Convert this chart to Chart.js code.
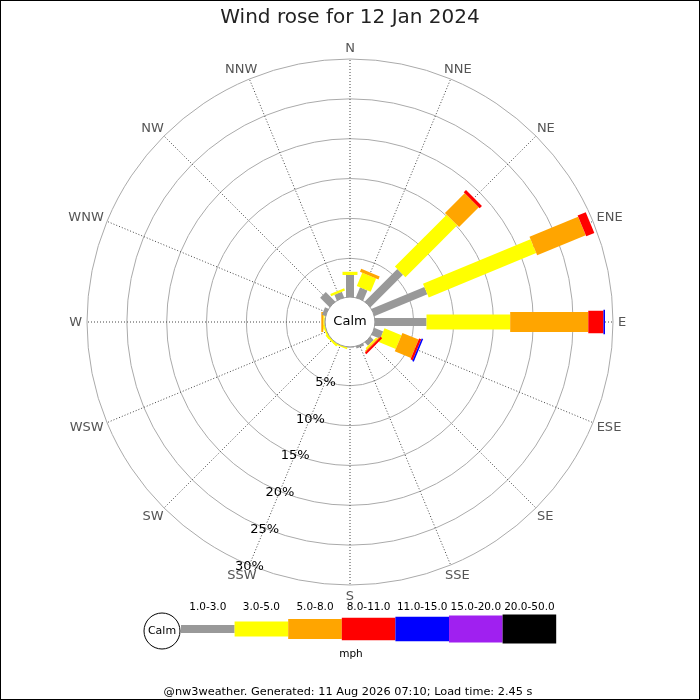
<!DOCTYPE html>
<html>
<head>
<meta charset="utf-8">
<script src="https://cdn.jsdelivr.net/npm/chart.js@4/dist/chart.umd.min.js"></script>
<style>
  body { margin: 0; background: #fff; }
  canvas { display: block; }
</style>
</head>
<body>
<canvas id="rose" width="700" height="700"></canvas>
<script>
// compass points, clockwise from north
const directions = ['N', 'NNE', 'NE', 'ENE', 'E', 'ESE', 'SE', 'SSE',
                    'S', 'SSW', 'SW', 'WSW', 'W', 'WNW', 'NW', 'NNW'];
const speedBands = ['1.0-3.0', '3.0-5.0', '5.0-8.0', '8.0-11.0', '11.0-15.0', '15.0-20.0', '20.0-50.0'];

// % of the day in each band, per direction
const speed1to3   = [2.9, 1.5, 5.9, 7.3, 6.6, 1.3, 0.7, 0.4, 0.2, 0.1, 0.1, 0.1, 0.2, 0.6, 1.8, 0.9];
const speed3to5   = [0.4, 1.8, 9.2, 14.6, 10.5, 2.3, 0.2, 0, 0, 0.2, 0.3, 0.25, 0.15, 0, 0, 0.3];
const speed5to8   = [0, 0.4, 3.5, 6.6, 9.8, 2.2, 0.15, 0, 0, 0, 0, 0, 0.25, 0, 0, 0];
const speed8to11  = [0, 0, 0.4, 1.1, 1.9, 0.3, 0.25, 0, 0, 0, 0, 0, 0, 0, 0, 0];
const speed11to15 = [0, 0, 0, 0, 0.2, 0.2, 0, 0, 0, 0, 0, 0, 0, 0, 0, 0];
const speed15to20 = [0, 0, 0, 0, 0, 0, 0, 0, 0, 0, 0, 0, 0, 0, 0, 0];
const speed20to50 = [0, 0, 0, 0, 0, 0, 0, 0, 0, 0, 0, 0, 0, 0, 0, 0];
const bandData = [speed1to3, speed3to5, speed5to8, speed8to11, speed11to15, speed15to20, speed20to50];

const ringTicks = [5, 10, 15, 20, 25, 30];

const bandColours = ['#999999', '#ffff00', '#ffa500', '#ff0000', '#0000ff', '#a020f0', '#000000'];
const bandWidths = [8, 15, 20, 22.5, 24.5, 27, 29];
const tickAxis = 9; // % labels run along SSW
const font = 'DejaVu Sans';

const rosePlugin = {
  id: 'rose',
  afterDatasetsDraw(chart) {
    const r = chart.scales.r;
    const ctx = chart.ctx;
    ctx.save();
    ctx.lineCap = 'butt';

    // stacked bars, one thick line per band
    directions.forEach((d, i) => {
      let base = 0;
      chart.data.datasets.forEach((ds, b) => {
        const v = ds.data[i];
        if (!v) return;
        const p0 = r.getPointPositionForValue(i, base);
        const p1 = r.getPointPositionForValue(i, base + v);
        ctx.strokeStyle = ds.backgroundColor;
        ctx.lineWidth = bandWidths[b];
        ctx.beginPath();
        ctx.moveTo(p0.x, p0.y);
        ctx.lineTo(p1.x, p1.y);
        ctx.stroke();
        base += v;
      });
    });

    // calm circle
    const calmR = r.getDistanceFromCenterForValue(0) + 1;
    ctx.beginPath();
    ctx.arc(r.xCenter, r.yCenter, calmR, 0, Math.PI * 2);
    ctx.fillStyle = '#fff';
    ctx.fill();
    ctx.lineWidth = 1;
    ctx.strokeStyle = '#999';
    ctx.stroke();
    ctx.fillStyle = '#000';
    ctx.font = '13px "' + font + '"';
    ctx.textAlign = 'center';
    ctx.textBaseline = 'middle';
    ctx.fillText('Calm', r.xCenter, r.yCenter);

    // ring labels
    ringTicks.forEach(v => {
      const p = r.getPointPositionForValue(tickAxis, v);
      ctx.fillText(v + '%', p.x, p.y + 1.5);
    });

    // compass labels, nudged outward by their own size
    ctx.fillStyle = '#555';
    directions.forEach((d, i) => {
      const p = r.getPointPosition(i, r.drawingArea + 5);
      const a = r.getIndexAngle(i);
      const w = ctx.measureText(d).width;
      ctx.fillText(d, p.x + Math.sin(a) * w / 2, p.y - Math.cos(a) * 6 + 0.5);
    });
    ctx.restore();
  },
  afterDraw(chart) {
    const ctx = chart.ctx;
    ctx.save();

    // speed legend
    const x0 = 181, step = 53.6, yMid = 629;
    ctx.beginPath();
    ctx.arc(162, 631, 18, 0, Math.PI * 2);
    ctx.fillStyle = '#fff';
    ctx.fill();
    ctx.strokeStyle = '#000';
    ctx.lineWidth = 1;
    ctx.stroke();
    ctx.fillStyle = '#000';
    ctx.textAlign = 'center';
    ctx.textBaseline = 'middle';
    ctx.font = '11px "' + font + '"';
    ctx.fillText('Calm', 162, 631);

    ctx.font = '10.5px "' + font + '"';
    speedBands.forEach((b, i) => {
      const h = bandWidths[i];
      ctx.fillStyle = bandColours[i];
      ctx.fillRect(x0 + i * step, yMid - h / 2, step, h);
      ctx.fillStyle = '#000';
      ctx.fillText(b, x0 + (i + 0.5) * step, 607);
    });
    ctx.fillText('mph', 351, 654);

    ctx.font = '11.3px "' + font + '"';
    ctx.fillText('@nw3weather. Generated: 11 Aug 2026 07:10; Load time: 2.45 s', 348, 692);

    ctx.strokeStyle = '#000';
    ctx.strokeRect(0.5, 0.5, 699, 699);
    ctx.restore();
  }
};

new Chart(document.getElementById('rose'), {
  type: 'radar',
  data: {
    labels: directions,
    datasets: speedBands.map((b, i) => ({
      label: b,
      data: bandData[i],
      backgroundColor: bandColours[i],
      borderColor: bandColours[i],
      showLine: false,
      fill: false,
      pointRadius: 0,
      pointHoverRadius: 0
    }))
  },
  options: {
    responsive: false,
    animation: false,
    layout: { padding: { left: 87, right: 87, top: 0, bottom: 115 } },
    plugins: {
      legend: { display: false },
      tooltip: { enabled: false },
      title: {
        display: true,
        text: 'Wind rose for 12 Jan 2024',
        color: '#222',
        font: { family: font, size: 20, weight: 'normal' },
        padding: { top: 6, bottom: 29 }
      }
    },
    scales: {
      r: {
        min: -3,
        max: 30,
        afterBuildTicks: s => { s.ticks = ringTicks.map(v => ({ value: v })); },
        ticks: { display: false },
        grid: { circular: true, color: '#aaa', lineWidth: 1 },
        angleLines: { color: '#444', lineWidth: 1, borderDash: [1, 2] },
        pointLabels: { display: false }
      }
    }
  },
  plugins: [rosePlugin]
});
</script>
</body>
</html>
